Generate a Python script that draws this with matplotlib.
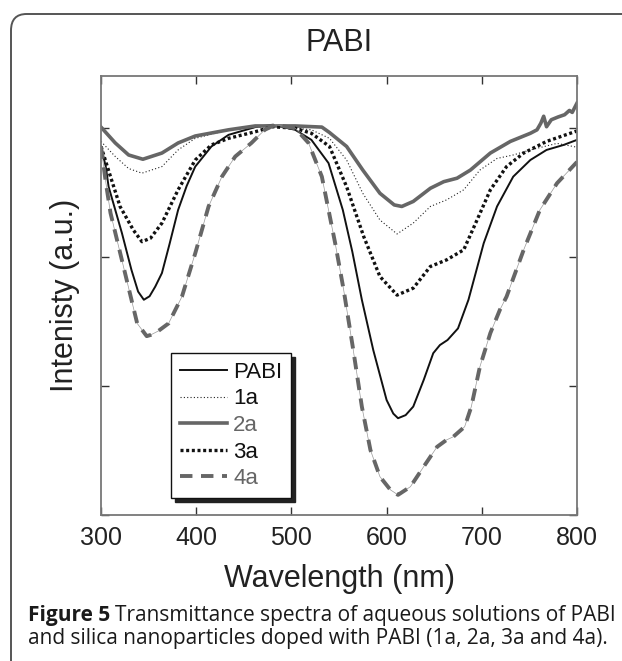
import matplotlib
matplotlib.use("Agg")
import matplotlib.pyplot as plt
from matplotlib.patches import FancyBboxPatch

plt.rcParams['font.family'] = ['Liberation Sans', 'DejaVu Sans']

# (wavelength in nm, intensity in arbitrary units)
wl_pabi = [300, 305, 308, 322, 332, 339, 345, 351, 357, 364, 372, 381, 390, 399, 416, 434,
           462, 480, 504, 521, 539, 554, 564, 574, 586, 600, 607, 612, 620, 628, 639, 649,
           656, 664, 675, 686, 702, 716, 733, 751, 768, 786, 800]
int_pabi = [0.952, 0.90, 0.848, 0.728, 0.633, 0.577, 0.556, 0.565, 0.59, 0.625, 0.70, 0.788,
            0.85, 0.900, 0.952, 0.982, 1.002, 1.008, 0.995, 0.969, 0.909, 0.788, 0.68, 0.556,
            0.426, 0.297, 0.262, 0.250, 0.258, 0.280, 0.349, 0.418, 0.439, 0.452, 0.482,
            0.556, 0.702, 0.797, 0.874, 0.917, 0.943, 0.956, 0.969]

wl_1a = [300, 315, 329, 343, 364, 381, 399, 434, 480, 521, 540, 558, 575, 593, 611, 628,
         646, 663, 681, 698, 716, 733, 751, 779, 800]
int_1a = [0.965, 0.926, 0.895, 0.883, 0.900, 0.943, 0.973, 0.995, 1.005, 0.995, 0.973,
          0.917, 0.831, 0.762, 0.726, 0.754, 0.797, 0.814, 0.840, 0.891, 0.921, 0.930,
          0.943, 0.960, 0.950]

wl_2a = [300, 315, 329, 344, 364, 381, 399, 434, 462, 504, 532, 540, 558, 575, 593, 608,
         616, 628, 646, 660, 674, 688, 709, 730, 751, 758, 762, 765, 768, 773, 780, 787,
         792, 795, 800]
int_2a = [1.002, 0.961, 0.930, 0.919, 0.935, 0.961, 0.979, 0.995, 1.005, 1.005, 1.002,
          0.988, 0.952, 0.891, 0.831, 0.801, 0.797, 0.810, 0.844, 0.861, 0.870, 0.891,
          0.935, 0.965, 0.986, 0.995, 1.012, 1.030, 1.003, 1.021, 1.028, 1.034, 1.045,
          1.040, 1.064]

wl_3a = [300, 310, 320, 334, 343, 352, 364, 381, 399, 416, 434, 462, 480, 504, 521, 540,
         558, 576, 593, 611, 628, 646, 663, 681, 695, 709, 726, 744, 768, 800]
int_3a = [0.952, 0.874, 0.797, 0.736, 0.706, 0.715, 0.754, 0.840, 0.917, 0.956, 0.973,
          0.990, 1.003, 0.999, 0.986, 0.952, 0.848, 0.719, 0.616, 0.568, 0.586, 0.642,
          0.659, 0.685, 0.762, 0.840, 0.900, 0.935, 0.965, 0.992]

wl_4a = [300, 305, 310, 327, 338, 348, 352, 360, 371, 385, 399, 413, 427, 441, 458, 472,
         483, 504, 518, 532, 546, 555, 565, 574, 583, 593, 604, 612, 625, 639, 653, 663,
         670, 682, 689, 698, 709, 719, 726, 744, 761, 779, 800]
int_4a = [0.952, 0.86, 0.780, 0.607, 0.495, 0.462, 0.465, 0.475, 0.495, 0.564, 0.676,
          0.797, 0.874, 0.926, 0.961, 0.995, 1.008, 0.999, 0.961, 0.874, 0.702, 0.58,
          0.426, 0.280, 0.168, 0.099, 0.065, 0.052, 0.073, 0.125, 0.176, 0.194, 0.202,
          0.228, 0.280, 0.383, 0.47, 0.53, 0.564, 0.685, 0.788, 0.857, 0.912]

xticks = [300, 400, 500, 600, 700, 800]
yticks = [0, 1/3, 2/3, 1]

fig = plt.figure(figsize=(6.22, 6.61), dpi=100)
ax = fig.add_axes([101/622, 146/661, 476/622, 439/661])

# rounded frame around figure + caption (runs off the right and bottom edges)
frame = FancyBboxPatch((11/622, -30/661), 660/622, 677/661,
                       boxstyle="round,pad=0,rounding_size=0.025",
                       transform=fig.transFigure, fill=False,
                       edgecolor='#555555', linewidth=1.4, clip_on=False)
fig.patches.append(frame)

ax.plot(wl_pabi, int_pabi, color='#111111', lw=1.4, label='PABI')
ax.plot(wl_1a, int_1a, color='#222222', lw=0.8, ls=(0, (1, 2)), label='1a')
ax.plot(wl_2a, int_2a, color='#666666', lw=2.6, label='2a')
ax.plot(wl_3a, int_3a, color='#111111', lw=2.4, ls=(0, (0.9, 0.8)), label='3a')
ax.plot(wl_4a, int_4a, color='#999999', lw=0.5)
ax.plot(wl_4a, int_4a, color='#666666', lw=2.8, ls=(0, (3.2, 2.2)), label='4a')

ax.set_xlim(300, 800)
ax.set_ylim(0, 1.134)
ax.set_xticks(xticks)
ax.set_yticks(yticks)
ax.set_yticklabels([])
ax.tick_params(direction='in', length=6, width=1, color='#333333', top=True, right=True,
               labelsize=18, pad=8, labelcolor='#222222')
for s in ax.spines.values():
    s.set_color('#777777')
    s.set_linewidth(1.3)

ax.set_title('PABI', fontsize=22, pad=18, color='#222222')
ax.set_xlabel('Wavelength (nm)', fontsize=22, labelpad=10, color='#222222')
ax.set_ylabel('Intenisty (a.u.)', fontsize=22, labelpad=7, color='#222222')

leg = ax.legend(loc='upper left', bbox_to_anchor=(0.147, 0.369), borderaxespad=0,
                fontsize=16, frameon=True, fancybox=False, handlelength=2.1,
                handletextpad=0.3, labelspacing=0.25, borderpad=0.4,
                shadow={'ox': 3, 'oy': -3, 'color': '#222222', 'alpha': 1})
leg.get_frame().set_edgecolor('#111111')
leg.get_frame().set_linewidth(1.0)
for txt, c in zip(leg.get_texts(), ['#111111', '#111111', '#666666', '#111111', '#666666']):
    txt.set_color(c)

# caption with a bold lead
cap_font = ['Open Sans', 'DejaVu Sans']
cap_size = 15.0
t1 = fig.text(28/622, 40/661, 'Figure 5', fontsize=cap_size, fontweight='bold',
              family=cap_font, color='#1a1a1a', va='baseline')
fig.canvas.draw()
bb = t1.get_window_extent()
fig.text((bb.x1 + 5)/622, 40/661,
         'Transmittance spectra of aqueous solutions of PABI',
         fontsize=cap_size, family=cap_font, color='#1a1a1a', va='baseline')
fig.text(28/622, 17/661,
         'and silica nanoparticles doped with PABI (1a, 2a, 3a and 4a).',
         fontsize=cap_size, family=cap_font, color='#1a1a1a', va='baseline')

fig.savefig('out.png', dpi=100)
